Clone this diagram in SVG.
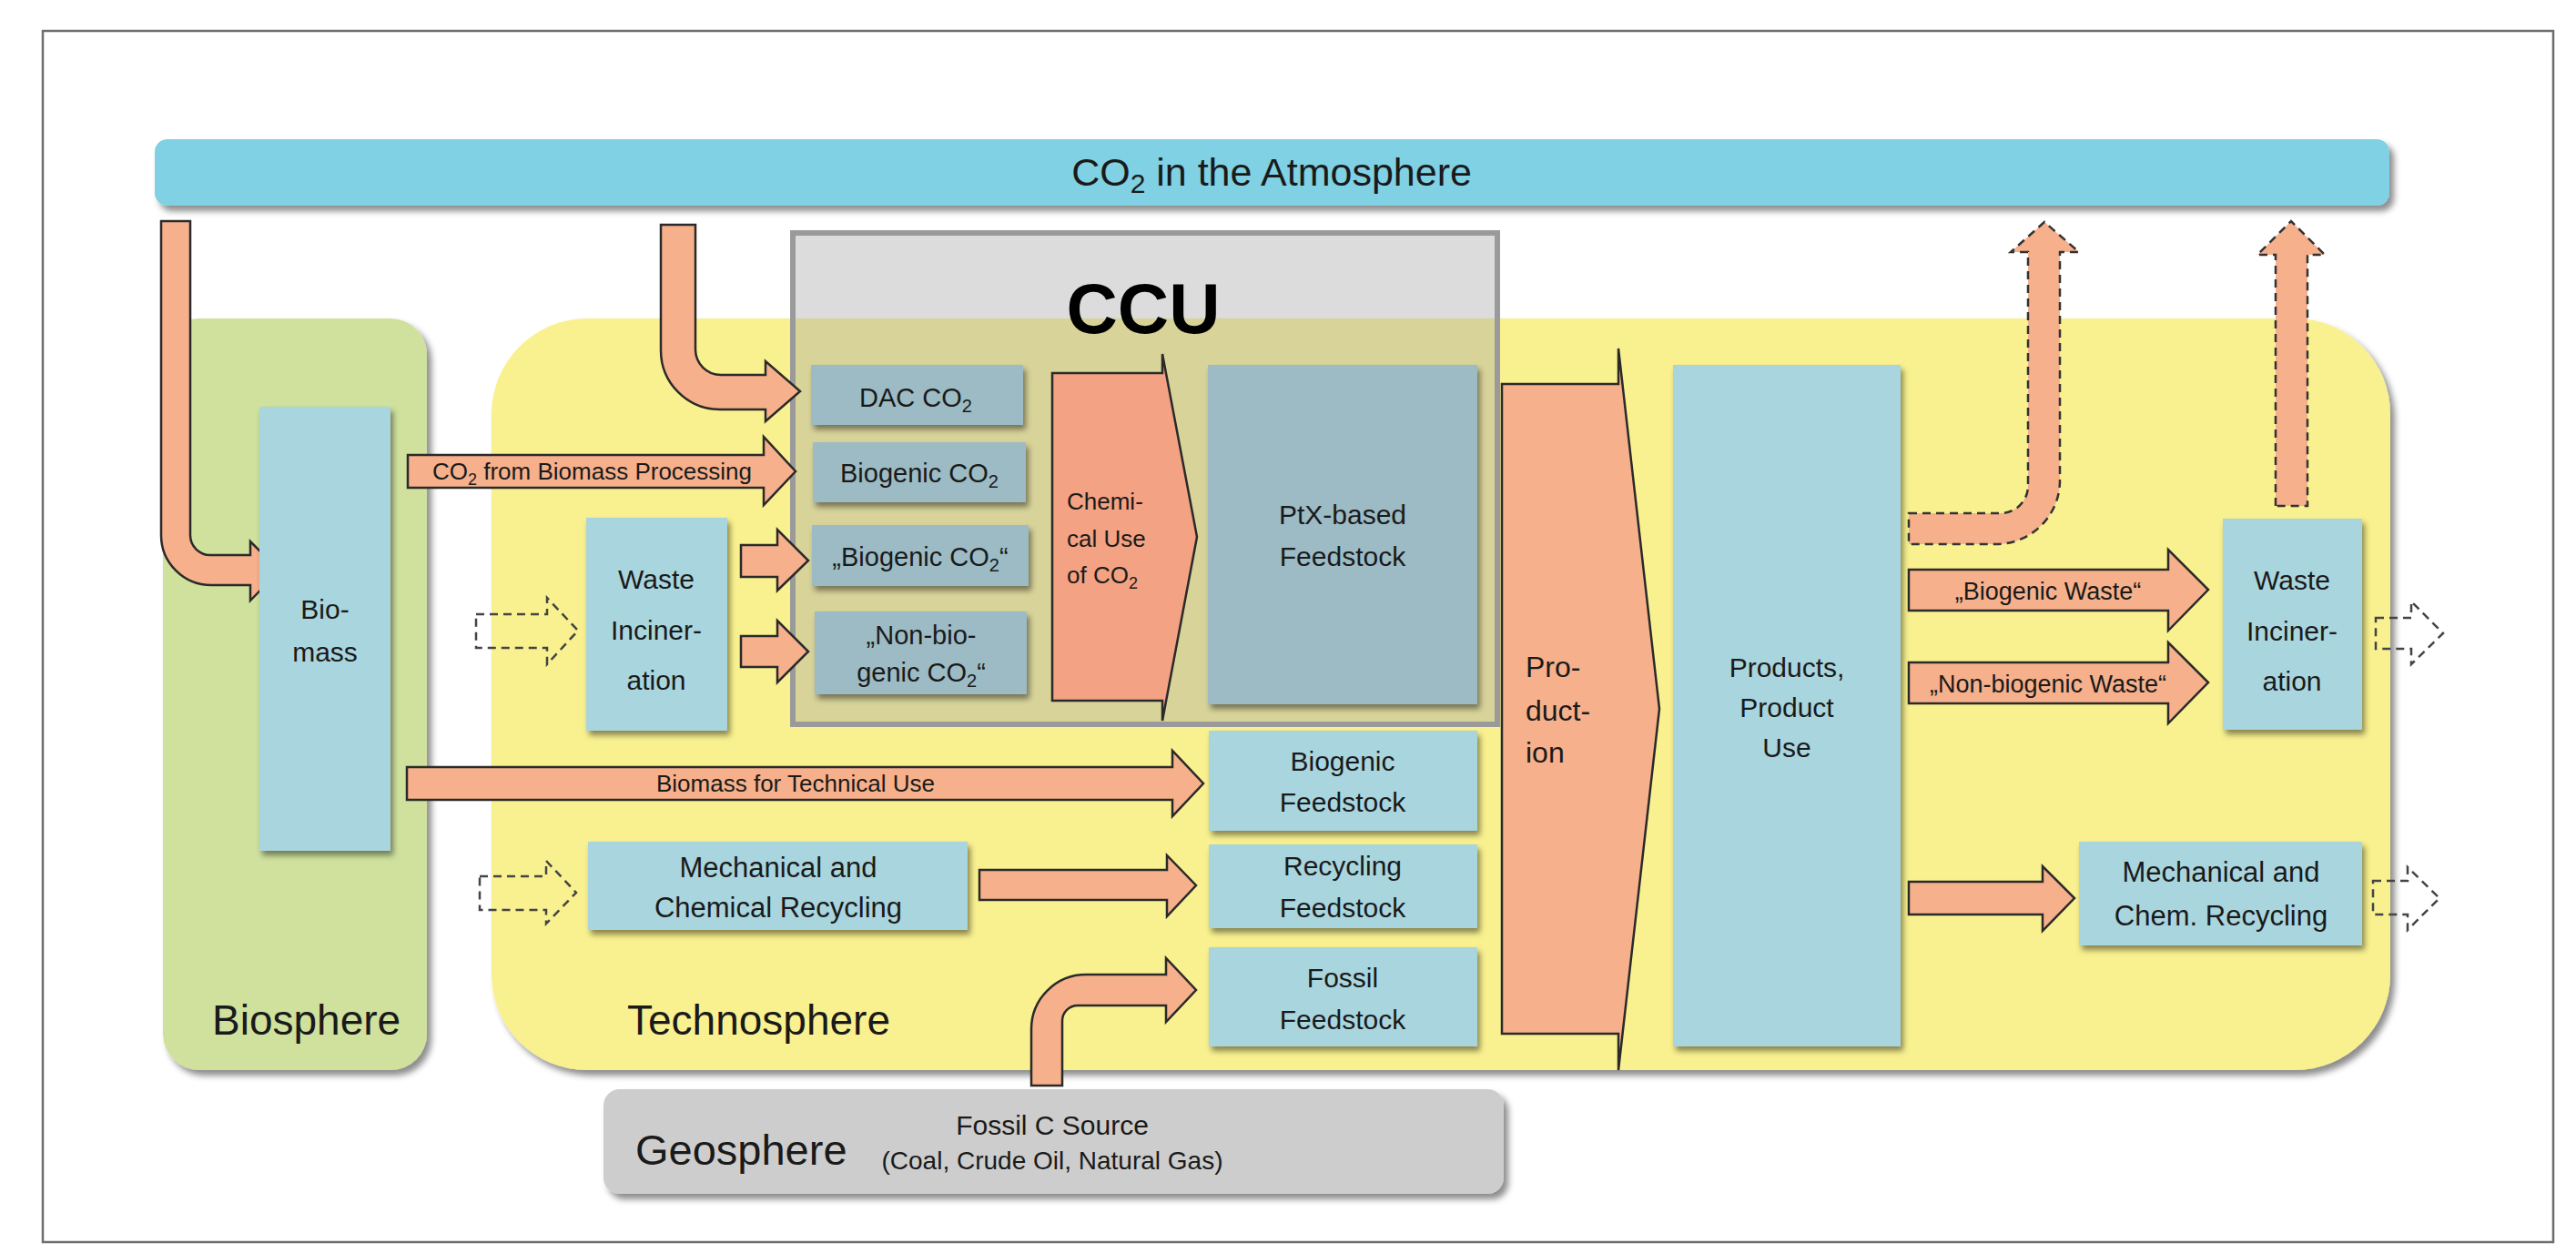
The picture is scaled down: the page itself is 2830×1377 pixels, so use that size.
<svg xmlns="http://www.w3.org/2000/svg" width="2830" height="1377" viewBox="0 0 2830 1377">
<defs>
<filter id="sh" x="-10%" y="-10%" width="125%" height="130%">
<feDropShadow dx="5" dy="6" stdDeviation="3.5" flood-color="#000" flood-opacity="0.45"/>
</filter>
<filter id="shb" x="-10%" y="-10%" width="125%" height="130%">
<feDropShadow dx="3" dy="5" stdDeviation="3" flood-color="#000" flood-opacity="0.45"/>
</filter>
<style>
text{font-family:"Liberation Sans",Arial,sans-serif;fill:#1a1a1a}
.box{fill:#a9d5de;filter:url(#shb)}
.ccubox{fill:#9cbbc5;filter:url(#shb)}
.arr{fill:#f6b08b;stroke:#2a2a2a;stroke-width:2.5;stroke-linejoin:miter}
.arrd{fill:#f3a283;stroke:#2a2a2a;stroke-width:2.5}
.dash{fill:none;stroke:#444;stroke-width:2.5;stroke-dasharray:9 6}
.dashf{fill:#f6b08b;stroke:#333;stroke-width:2.5;stroke-dasharray:9 6}
.t30{font-size:30px;text-anchor:middle}
.t31{font-size:31px;text-anchor:middle}
.t29{font-size:29px;text-anchor:middle}
.t27{font-size:27px;text-anchor:middle}
.sph{font-size:46px}
</style>
</defs>
<rect x="47" y="34" width="2758" height="1331" fill="none" stroke="#6e6e6e" stroke-width="2.5"/>

<g id="atmosphere">
<rect x="170" y="153" width="2455" height="73" rx="14" fill="#7fd1e3" filter="url(#sh)"/>
<text x="1397" y="204" font-size="43" text-anchor="middle">CO<tspan dy="8" font-size="30">2</tspan><tspan dy="-8"> in the Atmosphere</tspan></text>
</g>

<g id="biosphere">
<rect x="179" y="350" width="290" height="826" rx="40" fill="#cfe19d" filter="url(#sh)"/>
<text x="233" y="1137" class="sph">Biosphere</text>
</g>

<g id="technosphere">
<rect x="540" y="350" width="2086" height="826" rx="105" fill="#f9f18f" filter="url(#sh)"/>
<text x="689" y="1137" class="sph">Technosphere</text>
</g>

<g id="ccu">
<rect x="871" y="256" width="774" height="540" fill="#a8a8a8" fill-opacity="0.4" stroke="#9a9a9a" stroke-width="6"/>
<text x="1256" y="366" font-size="78" font-weight="bold" text-anchor="middle" style="fill:#000">CCU</text>
</g>

<g id="geosphere">
<rect x="663" y="1197" width="989" height="115" rx="18" fill="#cdcdcd" filter="url(#sh)"/>
<text x="698" y="1280" font-size="47">Geosphere</text>
<text x="1156" y="1247" font-size="30" text-anchor="middle">Fossil C Source</text>
<text x="1156" y="1285" font-size="28" text-anchor="middle">(Coal, Crude Oil, Natural Gas)</text>
</g>

<g id="connectors">
<path class="arr" d="M177,243 H209 V588 A22,22 0 0 0 231,610 H275 V595 L307,627 L275,660 V643 H232 A55,55 0 0 1 177,588 Z"/>
<path class="arr" d="M726,247 H764 V384 A28,28 0 0 0 792,412 H841 V397 L879,430 L841,463 V450 H791 A65,65 0 0 1 726,385 Z"/>
<path class="arr" d="M448,500 H839 V480 L874,518 L839,555 V536 H448 Z"/>
<path class="arr" d="M447,843 H1288 V825 L1322,861 L1288,897 V879 H447 Z"/>
<path class="arr" d="M814,599 H854 V582 L888,616 L854,649 V634 H814 Z"/>
<path class="arr" d="M814,699 H854 V682 L888,716 L854,750 V733 H814 Z"/>
<path class="dash" d="M523,675 H601 V657 L635,693 L601,730 V712 H523 Z"/>
<path class="dash" d="M527,963 H600 V946 L633,981 L600,1015 V1000 H527 Z"/>
<path class="arr" d="M1076,956 H1282 V940 L1314,973 L1282,1007 V989 H1076 Z"/>
<path class="arr" d="M1133,1193 V1131 A60,60 0 0 1 1193,1071 H1281 V1053 L1314,1088 L1281,1123 V1105 H1184 A17,17 0 0 0 1167,1122 V1193 Z"/>
<path class="dashf" d="M2097,564 H2198 A30,30 0 0 0 2228,534 V277 H2209 L2246,244 L2284,277 H2263 V528 A70,70 0 0 1 2193,598 H2097 Z"/>
<path class="dashf" d="M2500,556 V280 H2480 L2517,243 L2554,280 H2535 V556 Z"/>
<path class="arr" d="M2097,626 H2382 V604 L2426,648 L2382,693 V671 H2097 Z"/>
<path class="arr" d="M2097,728 H2382 V706 L2426,750 L2382,795 V773 H2097 Z"/>
<path class="dash" d="M2610,679 H2649 V661 L2684,696 L2649,730 V713 H2610 Z"/>
<path class="arr" d="M2097,969 H2244 V952 L2279,987 L2244,1023 V1005 H2097 Z"/>
<path class="dash" d="M2607,968 H2645 V953 L2680,987 L2645,1022 V1005 H2607 Z"/>
<text x="475" y="527" font-size="26">CO<tspan dy="6" font-size="18">2</tspan><tspan dy="-6"> from Biomass Processing</tspan></text>
<text x="721" y="870" font-size="26">Biomass for Technical Use</text>
<text x="2250" y="659" class="t27">„Biogenic Waste“</text>
<text x="2250" y="761" class="t27">„Non-biogenic Waste“</text>
</g>

<g id="biomass">
<rect class="box" x="285" y="447" width="144" height="488"/>
<text class="t30" x="357" y="680">Bio-</text>
<text class="t30" x="357" y="727">mass</text>
</g>

<g id="waste-incineration-left">
<rect class="box" x="644" y="569" width="155" height="234"/>
<text class="t30" x="721" y="647">Waste</text>
<text class="t30" x="721" y="703">Inciner-</text>
<text class="t30" x="721" y="758">ation</text>
</g>

<g id="mech-recycling-left">
<rect class="box" x="646" y="925" width="417" height="97"/>
<text class="t31" x="855" y="964">Mechanical and</text>
<text class="t31" x="855" y="1008">Chemical Recycling</text>
</g>

<g id="dac-co2">
<rect class="ccubox" x="891" y="401" width="233" height="66"/>
<text class="t29" x="1006" y="447">DAC CO<tspan dy="6" font-size="20">2</tspan></text>
</g>
<g id="biogenic-co2">
<rect class="ccubox" x="893" y="486" width="234" height="66"/>
<text class="t29" x="1010" y="530">Biogenic CO<tspan dy="6" font-size="20">2</tspan></text>
</g>
<g id="biogenic-co2-quoted">
<rect class="ccubox" x="892" y="577" width="238" height="67"/>
<text class="t29" x="1011" y="622">„Biogenic CO<tspan dy="6" font-size="20">2</tspan><tspan dy="-6">“</tspan></text>
</g>
<g id="non-biogenic-co2">
<rect class="ccubox" x="895" y="672" width="233" height="91"/>
<text class="t29" x="1012" y="708">„Non-bio-</text>
<text class="t29" x="1012" y="749">genic CO<tspan dy="6" font-size="20">2</tspan><tspan dy="-6">“</tspan></text>
</g>

<g id="chemical-use">
<polygon class="arrd" points="1156,410 1277,410 1277,389 1315,590 1277,792 1277,770 1156,770"/>
<text x="1172" y="560" font-size="26">Chemi-</text>
<text x="1172" y="601" font-size="26">cal Use</text>
<text x="1172" y="641" font-size="26">of CO<tspan dy="6" font-size="18">2</tspan></text>
</g>

<g id="ptx-feedstock">
<rect class="ccubox" x="1327" y="401" width="296" height="373"/>
<text class="t30" x="1475" y="576">PtX-based</text>
<text class="t30" x="1475" y="622">Feedstock</text>
</g>

<g id="biogenic-feedstock">
<rect class="box" x="1328" y="803" width="295" height="110"/>
<text class="t30" x="1475" y="847">Biogenic</text>
<text class="t30" x="1475" y="892">Feedstock</text>
</g>
<g id="recycling-feedstock">
<rect class="box" x="1328" y="928" width="295" height="92"/>
<text class="t30" x="1475" y="962">Recycling</text>
<text class="t30" x="1475" y="1008">Feedstock</text>
</g>
<g id="fossil-feedstock">
<rect class="box" x="1328" y="1041" width="295" height="109"/>
<text class="t30" x="1475" y="1085">Fossil</text>
<text class="t30" x="1475" y="1131">Feedstock</text>
</g>

<g id="production">
<polygon class="arr" points="1650,422 1778,422 1778,383 1823,779 1778,1176 1778,1136 1650,1136"/>
<text x="1676" y="744" font-size="32">Pro-</text>
<text x="1676" y="792" font-size="32">duct-</text>
<text x="1676" y="838" font-size="32">ion</text>
</g>

<g id="products">
<rect class="box" x="1838" y="401" width="250" height="749"/>
<text class="t30" x="1963" y="744">Products,</text>
<text class="t30" x="1963" y="788">Product</text>
<text class="t30" x="1963" y="832">Use</text>
</g>

<g id="waste-incineration-right">
<rect class="box" x="2442" y="570" width="153" height="232"/>
<text class="t30" x="2518" y="648">Waste</text>
<text class="t30" x="2518" y="704">Inciner-</text>
<text class="t30" x="2518" y="759">ation</text>
</g>

<g id="mech-recycling-right">
<rect class="box" x="2284" y="925" width="311" height="114"/>
<text class="t31" x="2440" y="969">Mechanical and</text>
<text class="t31" x="2440" y="1017">Chem. Recycling</text>
</g>
</svg>
